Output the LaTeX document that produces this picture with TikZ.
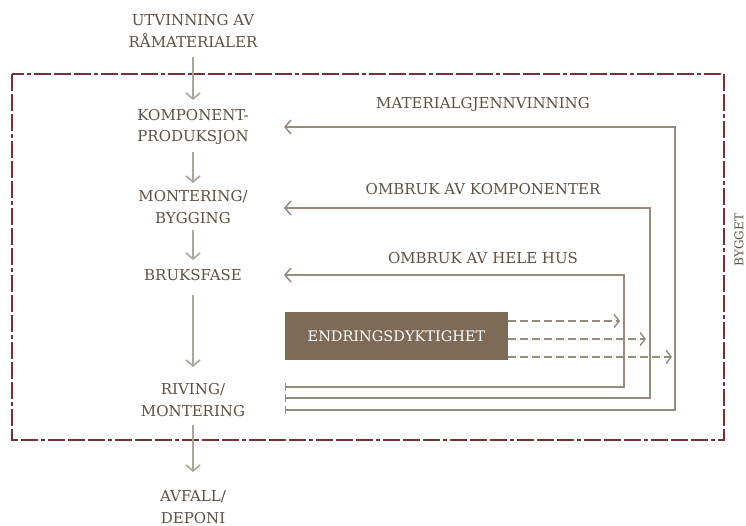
\documentclass[tikz,border=0pt]{standalone}
\usepackage{fontspec}
\setmainfont{DejaVu Serif}
\usetikzlibrary{arrows.meta}
\definecolor{txt}{HTML}{5E5246}
\definecolor{flow}{HTML}{ADA599}
\definecolor{loop}{HTML}{978B7D}
\definecolor{frame}{HTML}{7A2E35}
\definecolor{boxfill}{HTML}{7D6B58}
\tikzset{
  lbl/.style={text=txt, font=\fontsize{15}{21.5}\selectfont, align=center, inner sep=0pt},
  down/.style={draw=flow, line width=1.7pt, -{Straight Barb[length=6pt,width=14pt,line width=1.6pt]}},
  back/.style={draw=loop, line width=1.6pt, {Bar[width=8pt,line width=1.4pt]}-{Straight Barb[length=6pt,width=14pt,line width=1.5pt]}},
  dsh/.style={draw=loop, line width=1.5pt, dash pattern=on 8pt off 4pt, -{Straight Barb[length=5pt,width=13pt,line width=1.4pt]}},
}
\begin{document}
\begin{tikzpicture}[x=1pt,y=-1pt]
\useasboundingbox (0,0) rectangle (746,526);
\fill[white] (0,0) rectangle (746,526);
% frame
\draw[frame, line width=1.8pt, dash pattern=on 17pt off 3pt on 17pt off 3pt on 17pt off 3pt on 4pt off 3pt] (12,74) rectangle (724,440);
\node[lbl, rotate=90, font=\fontsize{12}{13}\selectfont] (byg) at (739,240) {BYGGET};
% left column
\node[lbl] (utv) at (193,31) {UTVINNING AV\\RÅMATERIALER};
\node[lbl] (komp) at (193,127) {KOMPONENT-\\PRODUKSJON};
\node[lbl] (mont) at (193,207) {MONTERING/\\BYGGING};
\node[lbl] (bruk) at (193,275) {BRUKSFASE};
\node[lbl] (riv) at (193,400) {RIVING/\\MONTERING};
\node[lbl] (avf) at (193,507) {AVFALL/\\DEPONI};
\draw[down] (193,57) -- (193,100);
\draw[down] (193,152) -- (193,183);
\draw[down] (193,230) -- (193,260);
\draw[down] (193,295) -- (193,367);
\draw[down] (193,425) -- (193,472);
% loops
\coordinate (a1) at (284,127);
\coordinate (a2) at (284,208);
\coordinate (a3) at (284,275);
\coordinate (b1) at (285,410);
\coordinate (b2) at (285,398);
\coordinate (b3) at (285,387);
\draw[back] (b1) -- (675,410) -- (675,127) -- (a1);
\draw[back] (b2) -- (650,398) -- (650,208) -- (a2);
\draw[back] (b3) -- (624,387) -- (624,275) -- (a3);
\node[lbl] (mat) at (483,104) {MATERIALGJENNVINNING};
\node[lbl] (omk) at (483,189) {OMBRUK AV KOMPONENTER};
\node[lbl] (omh) at (483,258) {OMBRUK AV HELE HUS};
% box
\node[fill=boxfill, text=white, font=\fontsize{14.5}{16}\selectfont, minimum width=223pt, minimum height=48pt, inner sep=0pt] (end) at (396.5,336) {ENDRINGSDYKTIGHET};
\coordinate (d1) at (620,321);
\coordinate (d2) at (646,339);
\coordinate (d3) at (672,357);
\draw[dsh] (end.east |- d1) -- (d1);
\draw[dsh] (end.east |- d2) -- (d2);
\draw[dsh] (end.east |- d3) -- (d3);
\end{tikzpicture}
\end{document}
